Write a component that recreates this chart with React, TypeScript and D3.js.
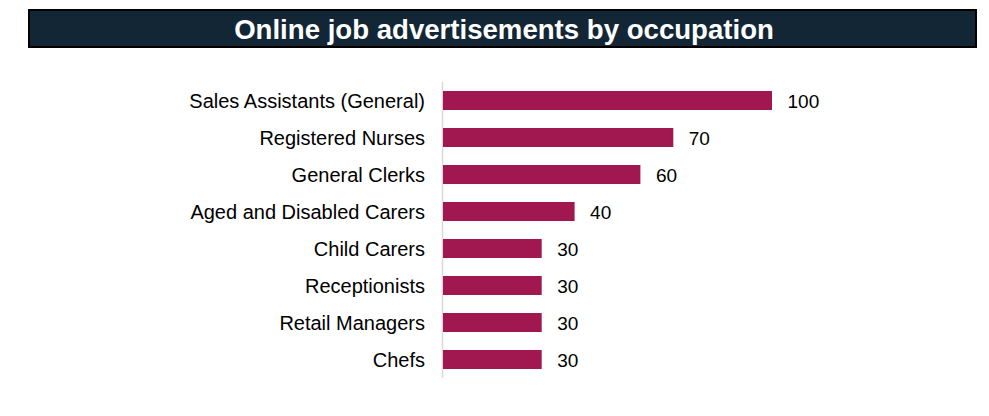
import React, { useEffect, useRef } from 'react'
import * as d3 from 'd3'

const categories = [
  'Sales Assistants (General)',
  'Registered Nurses',
  'General Clerks',
  'Aged and Disabled Carers',
  'Child Carers',
  'Receptionists',
  'Retail Managers',
  'Chefs',
]
const values = [100, 70, 60, 40, 30, 30, 30, 30]
const title = 'Online job advertisements by occupation'

const W = 989
const H = 416

export default function App() {
  const ref = useRef<SVGSVGElement>(null)

  useEffect(() => {
    const svg = d3.select(ref.current)
    svg.selectAll('*').remove()
    const font = 'Liberation Sans, Arial, sans-serif'

    // title bar
    svg.append('rect')
      .attr('x', 29).attr('y', 10)
      .attr('width', 947).attr('height', 37)
      .attr('fill', '#132636')
      .attr('stroke', '#000').attr('stroke-width', 2)
    svg.append('text')
      .attr('x', 504).attr('y', 29)
      .attr('text-anchor', 'middle')
      .attr('dominant-baseline', 'central')
      .attr('fill', '#fff')
      .style('font-family', font)
      .style('font-weight', 'bold')
      .style('font-size', '27.6px')
      .text(title)

    const x = d3.scaleLinear().domain([0, 100]).range([443, 772])
    const y = d3.scaleBand<string>()
      .domain(categories)
      .range([82, 378])
      .paddingInner(0.486)
      .paddingOuter(0.243)

    // axis line
    svg.append('line')
      .attr('x1', 442.5).attr('x2', 442.5)
      .attr('y1', 82).attr('y2', 378)
      .attr('stroke', '#d9d9d9').attr('stroke-width', 1.5)

    const rows = categories.map((c, i) => ({ c, v: values[i] }))

    svg.selectAll('rect.bar')
      .data(rows)
      .join('rect')
      .attr('class', 'bar')
      .attr('x', x(0))
      .attr('y', d => y(d.c)!)
      .attr('width', d => x(d.v) - x(0))
      .attr('height', y.bandwidth())
      .attr('fill', '#A11851')

    svg.selectAll('text.val')
      .data(rows)
      .join('text')
      .attr('class', 'val')
      .attr('x', d => x(d.v) + 15.5)
      .attr('y', d => y(d.c)! + y.bandwidth() / 2 + 1)
      .attr('dominant-baseline', 'central')
      .attr('fill', '#000')
      .style('font-family', font)
      .style('font-size', '19px')
      .text(d => d.v)

    svg.selectAll('text.cat')
      .data(rows)
      .join('text')
      .attr('class', 'cat')
      .attr('x', 425)
      .attr('y', d => y(d.c)! + y.bandwidth() / 2)
      .attr('text-anchor', 'end')
      .attr('dominant-baseline', 'central')
      .attr('fill', '#000')
      .style('font-family', font)
      .style('font-size', '20px')
      .text(d => d.c)
  }, [])

  return (
    <svg ref={ref} width={W} height={H}
      style={{ position: 'absolute', left: 0, top: 0, background: '#fff' }} />
  )
}
